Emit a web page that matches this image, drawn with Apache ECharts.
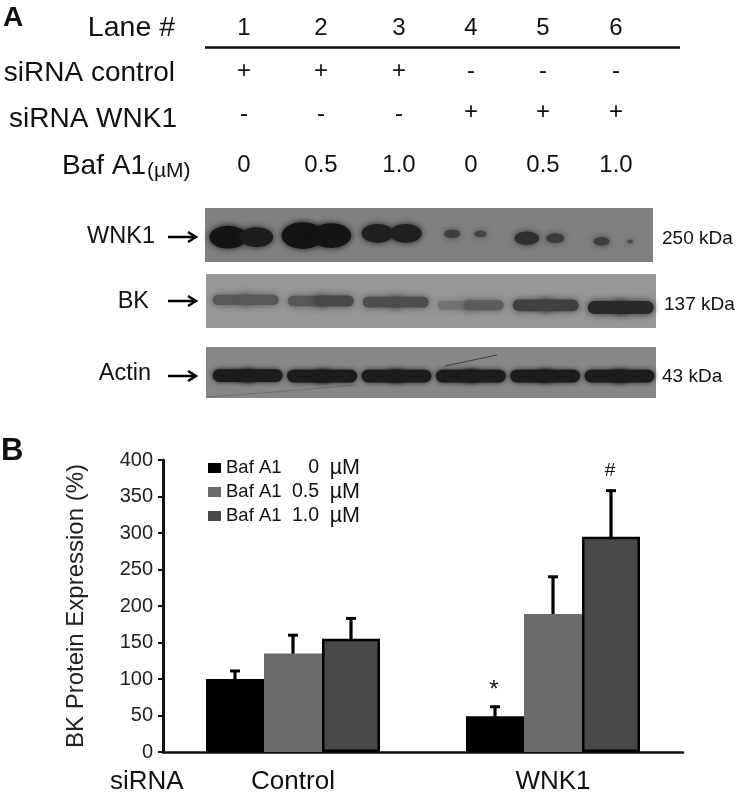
<!DOCTYPE html>
<html><head><meta charset="utf-8">
<style>html,body{margin:0;padding:0;background:#fff}#c{width:738px;height:795px}</style>
<script src="https://cdn.jsdelivr.net/npm/echarts@6/dist/echarts.min.js"></script>
</head><body><div id="c"></div>
<script>
// --- chart B data ---
const groups = ['Control', 'WNK1'];
const doses = ['0', '0.5', '1.0'];
const baf0 = [100, 49];
const baf05 = [135, 189];
const baf10 = [155, 295];
const err0 = [111, 62];
const err05 = [160, 240];
const err10 = [183, 358];
const marks0 = ['', '*'];
const marks10 = ['', '#'];
const yTicks = [0, 50, 100, 150, 200, 250, 300, 350, 400];
// --- panel A table ---
const lanes = ['1', '2', '3', '4', '5', '6'];
const ctrlRow = ['+', '+', '+', '-', '-', '-'];
const wnkRow = ['-', '-', '-', '+', '+', '+'];
const bafRow = ['0', '0.5', '1.0', '0', '0.5', '1.0'];
// --- blot band signals per lane: [left lobe, right lobe], band height fraction per lane ---
const wnk1Signal = [[1.0, .85], [1.2, 1.1], [.8, .8], [.3, .2], [.55, .35], [.3, .08]];
const wnk1Level = [.46, .49, .53, .52, .44, .38];
const bkSignal = [[.5, .5], [.5, .65], [.6, .6], [.2, .45], [.75, .75], [1, 1]];
const bkLevel = [.52, .5, .48, .42, .42, .38];
const actinSignal = [[1, 1], [1, 1], [1, 1], [1, 1], [1, 1], [1, 1]];
const actinLevel = [.44, .43, .43, .43, .43, .43];

const FONT = '"Liberation Sans", Arial, sans-serif';
const tx = (text, x, y, size, align, weight) => ({
  type: 'text', x, y, silent: true,
  style: { text, fontFamily: FONT, fontSize: size, fontWeight: weight || 'normal', fill: '#111', align: align || 'center', verticalAlign: 'middle' }
});
const laneX = [244, 321, 399, 471, 543, 616];
const graphics = [
  tx('A', 3, 18, 28, 'left', 'bold'),
  tx('B', 1, 451, 31, 'left', 'bold'),
  tx('Lane #', 175, 28, 28.5, 'right'),
  tx('siRNA control', 175, 73, 28, 'right'),
  tx('siRNA WNK1', 177, 119, 28, 'right'),
  tx('Baf A1', 146, 166, 28, 'right'),
  tx('(µM)', 147, 171, 21, 'left'),
  { type: 'line', shape: { x1: 205, y1: 47.5, x2: 680, y2: 47.5 }, style: { stroke: '#111', lineWidth: 2.5 }, silent: true },
  tx('WNK1', 155, 237, 23.5, 'right'),
  tx('BK', 149, 302, 23.5, 'right'),
  tx('Actin', 151, 374, 23.5, 'right'),
  tx('250 kDa', 662, 239, 19, 'left'),
  tx('137 kDa', 664, 305, 19, 'left'),
  tx('43 kDa', 662, 377, 19, 'left'),
  tx('siRNA', 110, 782, 26, 'left')
];
lanes.forEach((l, i) => {
  graphics.push(tx(l, laneX[i], 28, 24));
  graphics.push(tx(ctrlRow[i], laneX[i], ctrlRow[i] === '+' ? 71 : 71, 24));
  graphics.push(tx(wnkRow[i], laneX[i], wnkRow[i] === '+' ? 112 : 114, 24));
  graphics.push(tx(bafRow[i], laneX[i], 165, 24));
});
[237, 301, 376].forEach(y => {
  graphics.push({ type: 'line', shape: { x1: 168, y1: y, x2: 195, y2: y }, style: { stroke: '#000', lineWidth: 2.5 }, silent: true });
  graphics.push({ type: 'polyline', shape: { points: [[188, y - 5], [196, y], [188, y + 5]] }, style: { stroke: '#000', fill: 'none', lineWidth: 2.5 }, silent: true });
});
// faint scratches on the actin membrane
graphics.push({ type: 'polyline', z: 4, shape: { points: [[206, 397], [262, 393], [358, 385]] }, style: { stroke: '#707070', fill: 'none', lineWidth: 1 }, silent: true });
graphics.push({ type: 'line', z: 4, shape: { x1: 445, y1: 366, x2: 497, y2: 355 }, style: { stroke: '#3c3c3c', lineWidth: 1 }, silent: true });

const blots = [
  { signal: wnk1Signal, level: wnk1Level, top: 208, h: 54, left: 205, w: 448, min: .5, span: 6, bg: 128, dark: 20, rx: .25, rxPow: .7, ry: .21, ryMin: .1, spread: .19, base: .45, rounded: false, blur: 6 },
  { signal: bkSignal, level: bkLevel, top: 274, h: 54, left: 206, w: 450, min: .47, span: 6, bg: 151, dark: 40, rx: .27, rxPow: 0, ry: .12, ryMin: .6, spread: .17, base: .15, rounded: true, blur: 7 },
  { signal: actinSignal, level: actinLevel, top: 347, h: 51, left: 206, w: 450, min: .44, span: 6.05, bg: 135, dark: 28, rx: .3, rxPow: 0, ry: .125, ryMin: 1, spread: .17, base: .9, rounded: true, blur: 5 }
];

const grids = [{ left: 163, top: 460, width: 520, height: 292, containLabel: false }];
const xAxes = [{
  type: 'category', data: groups, gridIndex: 0,
  axisLine: { lineStyle: { color: '#111', width: 2.5 } }, axisTick: { show: false },
  axisLabel: { color: '#111', fontSize: 26, fontFamily: FONT, margin: 17 }
}];
const yAxes = [{
  type: 'value', min: 0, max: 400, interval: 50, gridIndex: 0,
  name: 'BK Protein Expression (%)', nameLocation: 'middle', nameRotate: 90, nameGap: 75,
  nameTextStyle: { color: '#222', fontSize: 24, fontFamily: FONT },
  axisLine: { show: true, lineStyle: { color: '#111', width: 3 } },
  axisTick: { show: true, length: 5, lineStyle: { color: '#111', width: 2 } },
  axisLabel: { color: '#222', fontSize: 20, fontFamily: FONT, margin: 10, customValues: yTicks },
  splitLine: { show: false }
}];
const barSeries = (name, data, color, border) => ({
  type: 'bar', name, data, xAxisIndex: 0, yAxisIndex: 0, barWidth: 58, barGap: 0,
  itemStyle: { color, borderColor: border, borderWidth: 2.5 }, z: border === '#000' ? 3 : 2
});
const names = doses.map(d => 'Baf A1 ' + d + ' µM');
const series = [
  barSeries(names[0], baf0, '#000', '#000'),
  barSeries(names[1], baf05, '#6b6b6b', '#6b6b6b'),
  barSeries(names[2], baf10, '#494949', '#000')
];
// error bars and significance marks
const errSets = [err0, err05, err10];
const markSets = [marks0, null, marks10];
const errData = [];
errSets.forEach((e, s) => e.forEach((top, g) => errData.push([g, top, s])));
series.push({
  type: 'custom', xAxisIndex: 0, yAxisIndex: 0, z: 1, silent: true, data: errData, encode: { x: 0, y: 1 },
  renderItem(p, api) {
    const g = api.value(0), top = api.value(1), s = api.value(2);
    const c = api.coord([g, top]);
    const bottom = api.coord([g, 0])[1];
    const x = c[0] + (s - 1) * 58;
    const kids = [
      { type: 'line', shape: { x1: x, y1: c[1], x2: x, y2: bottom - 10 }, style: { stroke: '#000', lineWidth: 3.2 } },
      { type: 'line', shape: { x1: x - 5, y1: c[1], x2: x + 5, y2: c[1] }, style: { stroke: '#000', lineWidth: 3 } }
    ];
    const m = markSets[s] && markSets[s][g];
    if (m) kids.push({ type: 'text', x: x - 1, y: c[1] - (m === '*' ? 16 : 20), style: { text: m, fontFamily: FONT, fontSize: m === '*' ? 24 : 19, fill: '#111', align: 'center', verticalAlign: 'middle' } });
    return { type: 'group', children: kids };
  }
});
// western blot panels: lane-scaled axes and blurred bands
blots.forEach((b, i) => {
  const gi = i + 1;
  const bgc = 'rgb(' + b.bg + ',' + b.bg + ',' + b.bg + ')';
  grids.push({ left: b.left, top: b.top, width: b.w, height: b.h, show: true, backgroundColor: bgc, borderWidth: 0 });
  xAxes.push({ type: 'value', gridIndex: gi, min: b.min, max: b.min + b.span, show: false });
  yAxes.push({ type: 'value', gridIndex: gi, min: 0, max: 1, show: false });
  const data = [];
  b.signal.forEach((pair, lane) => pair.forEach((sig, side) => {
    data.push([lane + 1 + (side ? b.spread : -b.spread), b.level[lane], sig]);
  }));
  series.push({
    type: 'custom', xAxisIndex: gi, yAxisIndex: gi, silent: true, z: 5, data, encode: { x: 0, y: 1 },
    renderItem(p, api) {
      const c = api.coord([api.value(0), api.value(1)]);
      const s = api.value(2);
      const sz = api.size([1, 1]);
      const rx = b.rx * Math.pow(s, b.rxPow) * sz[0];
      const ry = Math.max(1.5, b.ry * (b.ryMin + (1 - b.ryMin) * Math.min(s, 1.25)) * sz[1]);
      const a = Math.min(1, b.base + (1 - b.base) * s);
      const v = Math.round(b.bg + (b.dark - b.bg) * a);
      const col = 'rgb(' + v + ',' + v + ',' + v + ')';
      const style = { fill: col, shadowBlur: b.blur, shadowColor: col };
      return b.rounded
        ? { type: 'rect', shape: { x: c[0] - rx, y: c[1] - ry, width: 2 * rx, height: 2 * ry, r: ry }, style }
        : { type: 'ellipse', shape: { cx: c[0], cy: c[1], rx, ry }, style };
    }
  });
});

const chart = echarts.init(document.getElementById('c'), null, { renderer: 'canvas' });
chart.setOption({
  animation: false,
  backgroundColor: '#fff',
  textStyle: { fontFamily: FONT },
  grid: grids, xAxis: xAxes, yAxis: yAxes, series,
  legend: {
    left: 203, top: 452, orient: 'vertical', itemWidth: 13, itemHeight: 10, itemGap: 2, selectedMode: false,
    icon: 'rect', itemStyle: { borderWidth: 0 },
    data: names,
    formatter: n => '{a|Baf A1}{b|' + n.split(' ')[2] + '}{c|µM}',
    textStyle: {
      rich: {
        a: { fontSize: 18.5, fontFamily: FONT, color: '#111', width: 66, align: 'left', height: 18 },
        b: { fontSize: 19.5, fontFamily: FONT, color: '#111', width: 27, align: 'right', height: 18 },
        c: { fontSize: 21.5, fontFamily: FONT, color: '#111', width: 41, align: 'right', height: 18 }
      }
    }
  },
  graphic: graphics
});
</script></body></html>
